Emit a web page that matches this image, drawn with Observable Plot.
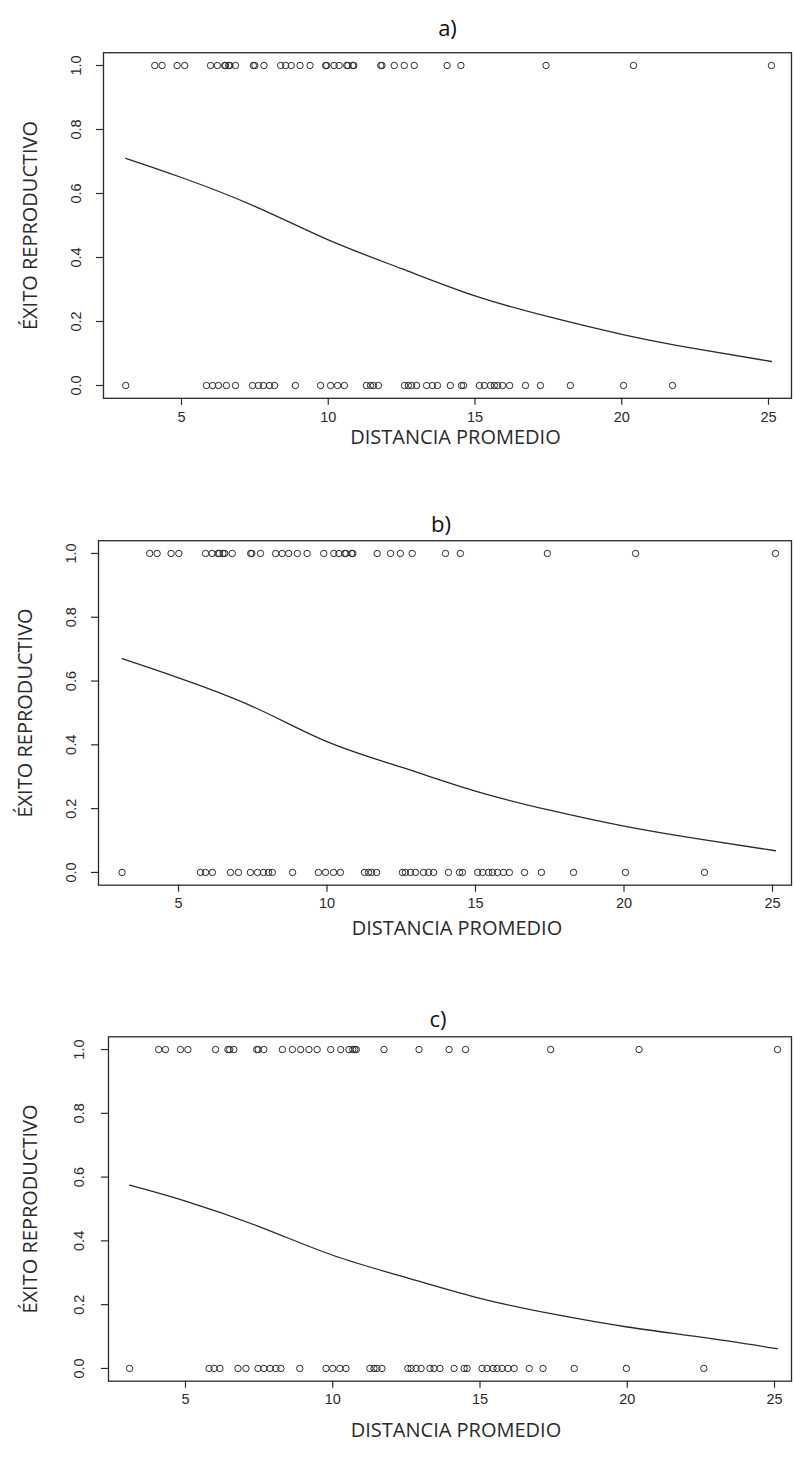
<!DOCTYPE html>
<html>
<head>
<meta charset="utf-8">
<script src="https://cdn.jsdelivr.net/npm/d3@7"></script>
<script src="https://cdn.jsdelivr.net/npm/@observablehq/plot@0.6"></script>
<style>
  html, body { margin: 0; padding: 0; background: #fff; }
  #chart { width: 795px; }
  #chart svg { display: block; }
</style>
</head>
<body>
<div id="chart"></div>
<script>
// ---- data ----
const panelNames = ["a)", "b)", "c)"];
const xTicks = [5, 10, 15, 20, 25];
const yTicks = [0, 0.2, 0.4, 0.6, 0.8, 1.0];
const xLabel = "DISTANCIA PROMEDIO";
const yLabel = "ÉXITO REPRODUCTIVO";

const aTop = [4.09, 4.34, 4.85, 5.11, 5.99, 6.22, 6.47, 6.5, 6.61, 6.65, 6.84, 7.45, 7.5, 7.81, 8.38, 8.55, 8.74, 9.04, 9.38, 9.91, 9.95, 10.2, 10.37, 10.63, 10.67, 10.83, 10.87, 11.79, 11.83, 12.25, 12.59, 12.93, 14.05, 14.52, 17.42, 20.4, 25.1];
const aBottom = [3.1, 5.85, 6.06, 6.26, 6.53, 6.84, 7.42, 7.62, 7.79, 8.0, 8.17, 8.88, 9.74, 10.08, 10.32, 10.55, 11.3, 11.44, 11.54, 11.71, 12.6, 12.73, 12.84, 13.01, 13.35, 13.55, 13.72, 14.16, 14.54, 14.61, 15.15, 15.32, 15.53, 15.66, 15.77, 15.94, 16.18, 16.72, 17.23, 18.25, 20.06, 21.73];

const bTop = [4.03, 4.28, 4.75, 5.01, 5.91, 6.13, 6.33, 6.38, 6.5, 6.56, 6.81, 7.43, 7.47, 7.76, 8.27, 8.49, 8.71, 9.0, 9.33, 9.89, 10.23, 10.4, 10.6, 10.64, 10.83, 10.87, 11.69, 12.14, 12.47, 12.87, 13.99, 14.49, 17.42, 20.39, 25.1];
const bBottom = [3.1, 5.74, 5.91, 6.14, 6.75, 7.02, 7.42, 7.66, 7.86, 8.03, 8.16, 8.84, 9.71, 9.95, 10.22, 10.45, 11.26, 11.4, 11.5, 11.67, 12.54, 12.64, 12.81, 12.98, 13.25, 13.42, 13.59, 14.09, 14.46, 14.56, 15.07, 15.24, 15.44, 15.57, 15.74, 15.94, 16.14, 16.65, 17.22, 18.3, 20.05, 22.71];

const cTop = [4.09, 4.32, 4.83, 5.08, 6.02, 6.44, 6.5, 6.64, 7.42, 7.47, 7.66, 8.29, 8.63, 8.91, 9.19, 9.47, 9.93, 10.27, 10.55, 10.68, 10.75, 10.8, 11.74, 12.93, 13.95, 14.51, 17.4, 20.4, 25.1];
const cBottom = [3.1, 5.8, 5.97, 6.17, 6.78, 7.05, 7.46, 7.66, 7.87, 8.07, 8.24, 8.88, 9.77, 10.0, 10.24, 10.45, 11.26, 11.4, 11.5, 11.67, 12.55, 12.66, 12.83, 13.0, 13.3, 13.44, 13.64, 14.12, 14.46, 14.56, 15.07, 15.24, 15.44, 15.58, 15.75, 15.95, 16.16, 16.67, 17.14, 18.2, 19.97, 22.6];

const curveX = [3.1, 5, 7.5, 10, 12.5, 15, 17.5, 20, 22.5, 25.1];
const aCurve = [0.71, 0.65, 0.56, 0.455, 0.365, 0.28, 0.215, 0.16, 0.115, 0.075];
const bCurve = [0.67, 0.61, 0.52, 0.41, 0.33, 0.255, 0.195, 0.145, 0.105, 0.068];
const cCurve = [0.575, 0.525, 0.445, 0.355, 0.285, 0.22, 0.17, 0.13, 0.098, 0.062];

// ---- layout (pixels) ----
const W = 795;
const layouts = [
  {h: 486, mt: 52.2, mb: 88.2, ml: 103, mr: 4, p5: 181, p25: 768, titleDy: -32, titleDx: 0, yTickDx: -27, yLabDx: -73, xLabDx: 8, xLabDy: 46},
  {h: 486, mt: 54.2, mb: 87.3, ml: 98, mr: 4, p5: 178, p25: 772, titleDy: -24, titleDx: -4, yTickDx: -27, yLabDx: -73, xLabDx: 12, xLabDy: 50},
  {h: 487, mt: 64.3, mb: 78.3, ml: 108, mr: 4, p5: 185, p25: 774, titleDy: -25, titleDx: -12, yTickDx: -29, yLabDx: -78, xLabDx: 6, xLabDy: 56}
];

const tops = [aTop, bTop, cTop];
const bottoms = [aBottom, bBottom, cBottom];
const curves = [aCurve, bCurve, cCurve];

const ink = "#2a2a2a";
const chart = document.getElementById("chart");

panelNames.forEach((name, i) => {
  const L = layouts[i];
  const s = (L.p25 - L.p5) / 20;
  const lo = 5 + (L.ml - L.p5) / s;
  const hi = 5 + (W - L.mr - L.p5) / s;
  const pts = [
    ...tops[i].map(x => ({x, y: 1})),
    ...bottoms[i].map(x => ({x, y: 0}))
  ];
  const line = curveX.map((x, k) => ({x, y: curves[i][k]}));
  const plot = Plot.plot({
    width: W,
    height: L.h,
    marginTop: L.mt,
    marginBottom: L.mb,
    marginLeft: L.ml,
    marginRight: L.mr,
    style: {fontFamily: "'Liberation Sans', Arial, sans-serif", color: ink, background: "#fff"},
    x: {domain: [lo, hi]},
    y: {domain: [-0.04, 1.04]},
    marks: [
      Plot.frame({stroke: ink, strokeWidth: 1.3}),
      Plot.axisX({ticks: xTicks, tickSize: 7, tickPadding: 6, fontSize: 14.5, label: null, stroke: ink, strokeWidth: 1.2}),
      Plot.axisY({ticks: yTicks, tickSize: 7, tickFormat: () => "", label: null, stroke: ink, strokeWidth: 1.2}),
      Plot.text(yTicks, {y: d => d, frameAnchor: "left", dx: L.yTickDx, rotate: -90, textAnchor: "middle", text: d => d.toFixed(1), fontSize: 14.5, fill: ink}),
      Plot.text([yLabel], {frameAnchor: "left", dx: L.yLabDx, rotate: -90, textAnchor: "middle", text: d => d, fontSize: 20, fill: ink, fontFamily: "'Open Sans', sans-serif"}),
      Plot.text([xLabel], {frameAnchor: "bottom", dy: L.xLabDy, dx: L.xLabDx, textAnchor: "middle", text: d => d, fontSize: 20, fill: ink, fontFamily: "'Open Sans', sans-serif"}),
      Plot.text([name], {frameAnchor: "top", dy: L.titleDy, dx: L.titleDx, textAnchor: "middle", text: d => d, fontSize: 22, fill: "#111", fontFamily: "'Open Sans', sans-serif"}),
      Plot.line(line, {x: "x", y: "y", curve: "natural", stroke: ink, strokeWidth: 1.3}),
      Plot.dot(pts, {x: "x", y: "y", r: 3.2, stroke: ink, strokeWidth: 1, fill: "none"})
    ]
  });
  chart.appendChild(plot);
});
</script>
</body>
</html>
